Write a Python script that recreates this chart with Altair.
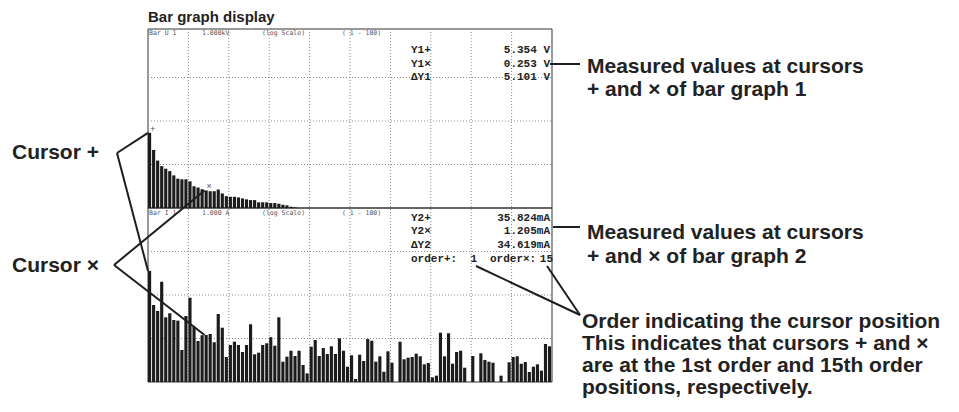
import altair as alt
import pandas as pd

# ---------------- data ----------------
ORDERS = list(range(1, 101))
# Bar graph 1: voltage harmonics (V), log scale 0.1 V .. 1 kV (0 = no bar shown)
U_VALUES = [5.354, 2.16, 1.23, 0.915, 0.80, 0.705, 0.562, 0.473, 0.456, 0.456,
            0.41, 0.316, 0.295, 0.27, 0.253, 0.243, 0.243, 0.266, 0.216, 0.187,
            0.181, 0.181, 0.175, 0.166, 0.158, 0.152, 0.152, 0.135, 0.135, 0.135,
            0.130, 0.130, 0.125, 0.119, 0.115, 0.107, 0.104] + [0] * 63
# Bar graph 2: current harmonics (mA), log scale 0.1 mA .. 1 A
I_VALUES = [35.824, 5.89, 4.29, 20.2, 3.07, 3.80, 2.66, 2.57, 0.544, 3.29,
            8.67, 1.87, 0.876, 1.19, 1.205, 1.27, 0.818, 3.66, 1.77, 0.376,
            0.709, 0.844, 0.709, 0.490, 0.709, 2.12, 0.433, 0.472, 0.709, 0.776,
            1.07, 0.683, 3.07, 0.293, 0.382, 0.524, 0.396, 0.524, 0.246, 0.158,
            0.648, 0.924, 0.396, 0.605, 0.440, 0.662, 0.440, 1.01, 0.524, 0.225,
            0.411, 0.117, 0.424, 0.304, 0.974, 0.889, 0.293, 0.390, 0.172, 0.508,
            0.278, 0, 0.844, 0.333, 0.362, 0.376, 0.448, 0.390, 0.255, 0.273,
            0.128, 0.140, 1.36, 0.390, 1.32, 0.264, 0.490, 0.524, 0.213, 0,
            0.396, 0, 0.457, 0.321, 0.293, 0.278, 0, 0.140, 0, 0.284,
            0.376, 0.390, 0.264, 0.288, 0.170, 0.225, 0.255, 0.182, 0.748, 0.662]
CURSOR_ORDERS = [1, 15]
CURSOR_MARKS = ["+", "×"]
U_CURSOR = [5.354, 0.253]
I_CURSOR = [35.824, 1.205]
GRID_ORDERS = [10, 20, 30, 40, 50, 60, 70, 80, 90]
DECADES = [1, 10, 100]
HEADER_U = ["Bar U 1", "1.000kV", "(log Scale)", "( 1 - 100)"]
HEADER_I = ["Bar I 1", "1.000 A", "(log Scale)", "( 1 - 100)"]
Y1_LABELS = ["Y1+", "Y1×", "ΔY1"]
Y1_READ = ["5.354 V", "0.253 V", "5.101 V"]
Y2_LABELS = ["Y2+", "Y2×", "ΔY2"]
Y2_READ = ["35.824mA", "1.205mA", "34.619mA"]
ORDER_READ = ["order+:", "1", "order×:", "15"]

# ---------------- layout (page pixels, minus 8px page margin) ----------------
M = 8
def P(v):
    return v - M

XL, XR = 148, 552
TOP_T, MID, BOT = 29, 208, 382
XS = alt.Scale(domain=[0, 100], range=[P(XL), P(XR)], zero=False, nice=False)
YU = alt.Scale(type="log", domain=[0.1, 1000], range=[P(MID), P(34)], nice=False)
YI = alt.Scale(type="log", domain=[0.1, 1000], range=[P(BOT), P(MID)], nice=False)

df = pd.DataFrame({"order": ORDERS, "u": U_VALUES, "i": I_VALUES})
df["x0"] = df["order"] - 1
df["x1"] = df["order"] - 0.22
cur = pd.DataFrame({"order": CURSOR_ORDERS, "mark": CURSOR_MARKS, "u": U_CURSOR, "i": I_CURSOR})
cur["x0"] = cur["order"] - 1
cur["xc"] = cur["order"] - 0.6
grid_df = pd.DataFrame({"g": GRID_ORDERS})
dec_df = pd.DataFrame({"d": DECADES})
one = pd.DataFrame({"_": [0]})

BAR = "#1c1c1c"
INK = "#1e1e1e"
layers = []

# frames
for t, b in [(TOP_T, MID), (MID, BOT)]:
    layers.append(alt.Chart(one).mark_rect(fill=None, stroke="#333", strokeWidth=1).encode(
        x=alt.value(P(XL)), x2=alt.value(P(XR)), y=alt.value(P(t)), y2=alt.value(P(b))))

# dotted grid
layers.append(alt.Chart(grid_df).mark_rule(strokeDash=[1, 2], color="#8a8a8a", strokeWidth=1).encode(
    x=alt.X("g:Q", scale=XS, axis=None), y=alt.value(P(TOP_T)), y2=alt.value(P(BOT))))
layers.append(alt.Chart(dec_df).mark_rule(strokeDash=[1, 2], color="#8a8a8a", strokeWidth=1).encode(
    y=alt.Y("d:Q", scale=YU, axis=None), x=alt.value(P(XL)), x2=alt.value(P(XR))))
layers.append(alt.Chart(dec_df).mark_rule(strokeDash=[1, 2], color="#8a8a8a", strokeWidth=1).encode(
    y=alt.Y("d:Q", scale=YI, axis=None), x=alt.value(P(XL)), x2=alt.value(P(XR))))

# bars
layers.append(alt.Chart(df).transform_filter("datum.u > 0.1").mark_rect(color=BAR).encode(
    x=alt.X("x0:Q", scale=XS, axis=None), x2="x1:Q",
    y=alt.Y("u:Q", scale=YU, axis=None), y2=alt.datum(0.1)))
layers.append(alt.Chart(df).transform_filter("datum.i > 0.1").mark_rect(color=BAR).encode(
    x=alt.X("x0:Q", scale=XS, axis=None), x2="x1:Q",
    y=alt.Y("i:Q", scale=YI, axis=None), y2=alt.datum(0.1)))

# cursor marks on bars
layers.append(alt.Chart(cur).mark_text(fontSize=9, color="#555", dy=-4, dx=3).encode(
    x=alt.X("xc:Q", scale=XS, axis=None), y=alt.Y("u:Q", scale=YU, axis=None), text="mark:N"))

# header lines
HX = [149, 202, 262, 342]
for hdr, y in [(HEADER_U, 33), (HEADER_I, 213)]:
    for s, x in zip(hdr, HX):
        layers.append(alt.Chart(one).mark_text(text=s, align="left", baseline="middle",
                      font="DejaVu Sans Mono", fontSize=6.5, color="#555").encode(
            x=alt.value(P(x)), y=alt.value(P(y))))

def mono(s, x, y, align="left"):
    return alt.Chart(one).mark_text(text=s, align=align, baseline="middle", font="Liberation Mono",
                                    fontWeight="bold", fontSize=11, color="#222").encode(
        x=alt.value(P(x)), y=alt.value(P(y)))

for lab, val, y in zip(Y1_LABELS, Y1_READ, [50, 63.5, 77]):
    layers.append(mono(lab, 411, y))
    layers.append(mono(val, 550, y, "right"))
for lab, val, y in zip(Y2_LABELS, Y2_READ, [217.5, 231, 245]):
    layers.append(mono(lab, 411, y))
    layers.append(mono(val, 550, y, "right"))
layers.append(mono(ORDER_READ[0], 411, 258.5))
layers.append(mono(ORDER_READ[1], 477, 258.5, "right"))
layers.append(mono(ORDER_READ[2], 490, 258.5))
layers.append(mono(ORDER_READ[3], 553, 258.5, "right"))

# annotation text
def note(s, x, baseline_y, size=21):
    return alt.Chart(one).mark_text(text=s, align="left", baseline="alphabetic", font="Liberation Sans",
                                    fontWeight="bold", fontSize=size, color="#222").encode(
        x=alt.value(P(x)), y=alt.value(P(baseline_y)))

layers.append(note("Bar graph display", 148, 21.5, 15))
layers.append(note("Cursor +", 12, 159))
layers.append(note("Cursor ×", 12, 272))
layers.append(note("Measured values at cursors", 587, 73))
layers.append(note("+ and × of bar graph 1", 587, 96))
layers.append(note("Measured values at cursors", 587, 239))
layers.append(note("+ and × of bar graph 2", 587, 262.5))
for s, yb in zip(["Order indicating the cursor position", "This indicates that cursors + and ×",
                  "are at the 1st order and 15th order", "positions, respectively."],
                 [327.5, 349.5, 371.5, 393.5]):
    layers.append(note(s, 582, yb))

# leader lines to cursors (bar-side end from data)
cur_plus = cur[cur["order"] == 1]
cur_x = cur[cur["order"] == 15]
for sub, apex in [(cur_plus, (117, 153)), (cur_x, (114, 265))]:
    layers.append(alt.Chart(sub).mark_rule(color=INK, strokeWidth=2).encode(
        x=alt.X("x0:Q", scale=XS, axis=None), y=alt.Y("u:Q", scale=YU, axis=None),
        x2=alt.value(P(apex[0])), y2=alt.value(P(apex[1]))))
    layers.append(alt.Chart(sub).mark_rule(color=INK, strokeWidth=2).encode(
        x=alt.X("x0:Q", scale=XS, axis=None), y=alt.Y("i:Q", scale=YI, axis=None),
        x2=alt.value(P(apex[0])), y2=alt.value(P(apex[1]))))

# other leader lines
for (x1, y1, x2, y2) in [(550, 64, 580, 64), (553, 227, 580, 227),
                         (476, 266, 580, 315), (547, 266, 580, 315)]:
    layers.append(alt.Chart(one).mark_rule(color=INK, strokeWidth=2).encode(
        x=alt.value(P(x1)), y=alt.value(P(y1)), x2=alt.value(P(x2)), y2=alt.value(P(y2))))

chart = alt.layer(*layers).resolve_scale(y="independent").properties(
    width=959 - 2 * M, height=412 - 2 * M,
    autosize=alt.AutoSizeParams(type="none"), padding=0,
).configure_view(stroke=None)

chart.save("out.html", embed_options={"renderer": "svg", "actions": False})
